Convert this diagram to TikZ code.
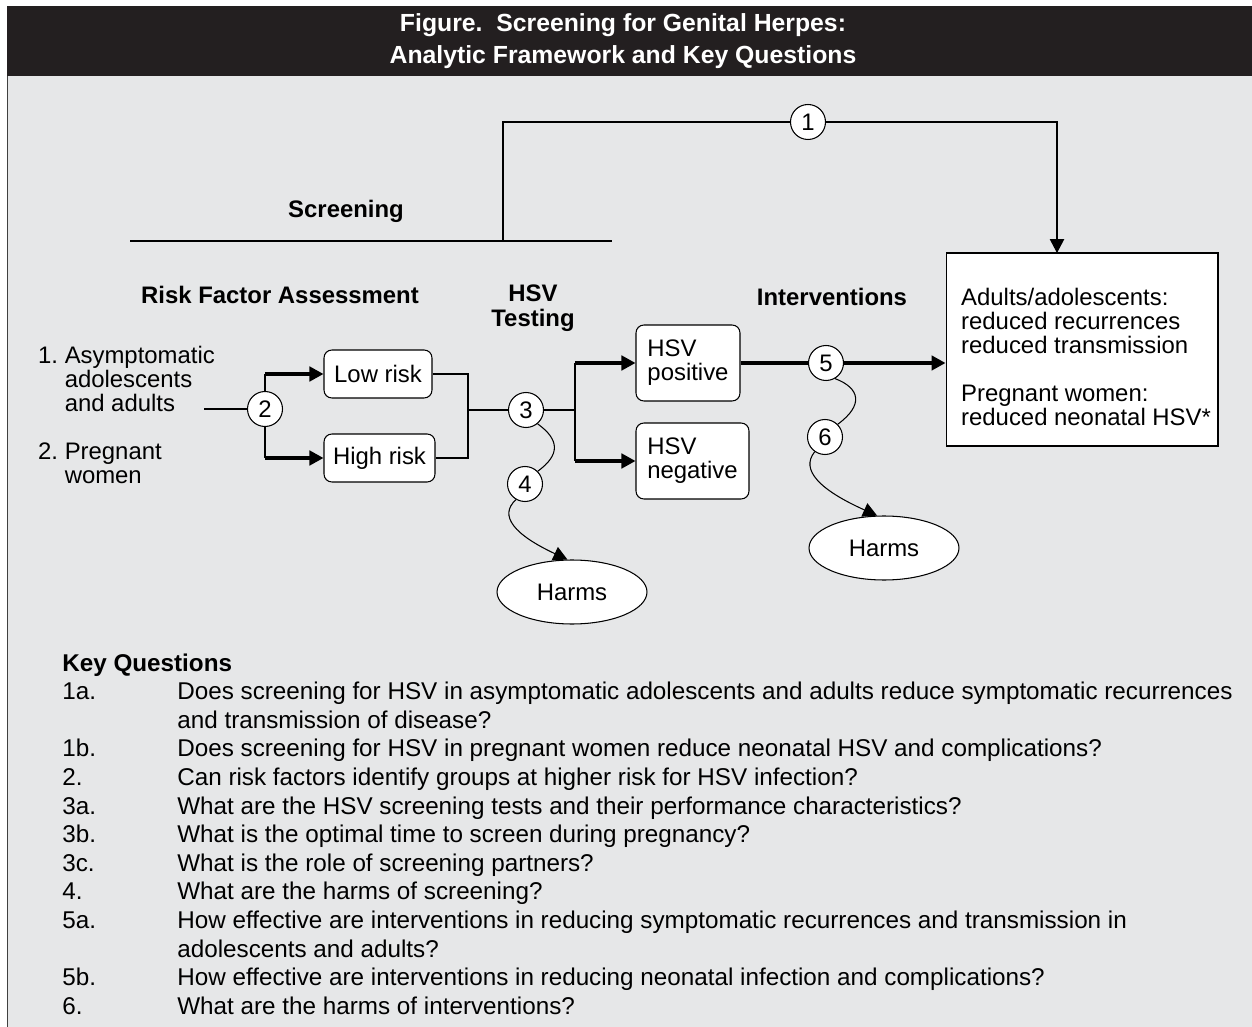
\documentclass[tikz,border=0pt]{standalone}
\usepackage{fontspec}
\setmainfont{Liberation Sans}
\usetikzlibrary{arrows.meta}
\usetikzlibrary{shapes.geometric}
\definecolor{bandgray}{HTML}{E6E7E8}
\definecolor{banddark}{HTML}{231F20}

\begin{document}
\begin{tikzpicture}[x=0.02cm, y=-0.02cm,
    every node/.style={font=\fontsize{13.6}{13.66}\selectfont},
    box/.style={draw=black, fill=white, rounded corners=4.5pt, inner sep=0pt, line width=0.6pt, minimum height=0.96cm},
    hsvbox/.style={box, minimum height=1.52cm, align=left},
    num/.style={shape=circle, draw=black, fill=white, minimum size=0.7cm, inner sep=0pt, line width=0.6pt},
    harms/.style={shape=ellipse, draw=black, fill=white, minimum width=3cm, minimum height=1.28cm, line width=0.6pt},
    head/.style={font=\fontsize{13.6}{14.2}\selectfont\bfseries, align=center},
    kq/.style={anchor=base west, inner sep=0pt, font=\fontsize{13.8}{14}\selectfont},
    thin/.style={line width=0.6pt},
    heavy/.style={line width=1.8pt},
    tip/.style={-{Triangle[length=0.28cm, width=0.29cm]}}
  ]
  \useasboundingbox (0,0) rectangle (1252,1027);
  \fill[banddark] (7,6) rectangle (1252,76);
  \fill[bandgray] (7,76) rectangle (1252,1027);
  \draw[line width=1pt, black!75] (7.5,76) -- (7.5,1027);
  \node[align=center, text=white, font=\fontsize{14.1}{18.2}\selectfont\bfseries] (title) at (623,41) {Figure.\ \ Screening for Genital Herpes:\\Analytic Framework and Key Questions};

  \node[head] (screening) at (346,211) {Screening};
  \node[head] (riskhead) at (280,295) {Risk Factor Assessment};
  \node[head] (testhead) at (533,308) {HSV\\Testing};
  \node[head] (intervhead) at (832,297) {Interventions};

  \node[anchor=west, align=left] (pop1) at (32,379) {1.\ Asymptomatic\\\phantom{1.\ }adolescents\\\phantom{1.\ }and adults};
  \node[anchor=west, align=left] (pop2) at (32,463) {2.\ Pregnant\\\phantom{2.\ }women};

  \node[box, minimum width=2.16cm] (low) at (378,374) {Low risk};
  \node[box, minimum width=2.22cm] (high) at (379.5,458) {High risk};
  \node[hsvbox, minimum width=2.08cm] (pos) at (688,363) {HSV\\positive};
  \node[hsvbox, minimum width=2.26cm] (neg) at (692.5,461) {HSV\\negative};
  \node[draw=black, fill=white, line width=0.6pt, minimum width=5.44cm, minimum height=3.86cm, inner sep=0pt] (out) at (1082,349.5) {};
  \node[anchor=west, align=left] (outtext) at (955,357) {Adults/adolescents:\\reduced recurrences\\reduced transmission\\[13.66pt]Pregnant women:\\reduced neonatal HSV*};
  \node[harms] (harmsA) at (572,592) {Harms};
  \node[harms] (harmsB) at (884,548) {Harms};

  \node[num] (k1) at (808,122) {1};
  \node[num] (k2) at (265,409) {2};
  \node[num] (k3) at (526,410) {3};
  \node[num] (k4) at (525,484) {4};
  \node[num] (k5) at (826,363) {5};
  \node[num] (k6) at (825,437) {6};

  \coordinate (scrL) at (130,241);
  \coordinate (scrR) at (612,241);
  \coordinate (scrM) at (503,241);
  \coordinate (drop) at (1057,253);
  \coordinate (src) at (204,409);
  \coordinate (join) at (468,410);
  \coordinate (split) at (575,410);

  \draw[thin] (scrL) -- (scrR);
  \draw[thin] (scrM) |- (k1);
  \draw[thin, tip] (k1) -| (drop);

  \draw[thin] (src) -- (k2);
  \draw[thin] (k2) -- (k2 |- low);
  \draw[thin] (k2) -- (k2 |- high);
  \draw[heavy, tip] (k2 |- low) -- (low);
  \draw[heavy, tip] (k2 |- high) -- (high);
  \draw[thin] (low.east) -| (join) |- (high.east);
  \draw[thin] (join) -- (k3);
  \draw[thin] (k3) -- (split);
  \draw[thin] (split |- pos) -- (split |- neg.west);
  \draw[heavy, tip] (split |- pos) -- (pos);
  \draw[heavy, tip] (split |- neg.west) -- (neg.west);
  \draw[heavy] (pos.east) -- (k5);
  \draw[heavy, tip] (k5) -- (out.west |- k5);

  \draw[thin] (k3.-50) .. controls (560,440) and (560,455) .. (k4.45);
  \draw[thin, tip] (k4.-120) .. controls (498,516) and (515,535) .. (harmsA.98);
  \draw[thin] (k5.-60) .. controls (860,388) and (864,405) .. (k6.45);
  \draw[thin, tip] (k6.-125) .. controls (800,470) and (820,490) .. (harmsB.102);

  \node[kq, font=\fontsize{13.8}{14}\selectfont\bfseries] (kqhead) at (62,671) {Key Questions};
  \node[kq] (n1a) at (62,699.6) {1a.};
  \node[kq] (q1a) at (177,699.6) {Does screening for HSV in asymptomatic adolescents and adults reduce symptomatic recurrences};
  \node[kq] (q1a2) at (177,728.2) {and transmission of disease?};
  \node[kq] (n1b) at (62,756.8) {1b.};
  \node[kq] (q1b) at (177,756.8) {Does screening for HSV in pregnant women reduce neonatal HSV and complications?};
  \node[kq] (n2) at (62,785.4) {2.};
  \node[kq] (q2) at (177,785.4) {Can risk factors identify groups at higher risk for HSV infection?};
  \node[kq] (n3a) at (62,814) {3a.};
  \node[kq] (q3a) at (177,814) {What are the HSV screening tests and their performance characteristics?};
  \node[kq] (n3b) at (62,842.6) {3b.};
  \node[kq] (q3b) at (177,842.6) {What is the optimal time to screen during pregnancy?};
  \node[kq] (n3c) at (62,871.2) {3c.};
  \node[kq] (q3c) at (177,871.2) {What is the role of screening partners?};
  \node[kq] (n4) at (62,899.8) {4.};
  \node[kq] (q4) at (177,899.8) {What are the harms of screening?};
  \node[kq] (n5a) at (62,928.4) {5a.};
  \node[kq] (q5a) at (177,928.4) {How effective are interventions in reducing symptomatic recurrences and transmission in};
  \node[kq] (q5a2) at (177,957) {adolescents and adults?};
  \node[kq] (n5b) at (62,985.6) {5b.};
  \node[kq] (q5b) at (177,985.6) {How effective are interventions in reducing neonatal infection and complications?};
  \node[kq] (n6) at (62,1014.2) {6.};
  \node[kq] (q6) at (177,1014.2) {What are the harms of interventions?};
\end{tikzpicture}
\end{document}
